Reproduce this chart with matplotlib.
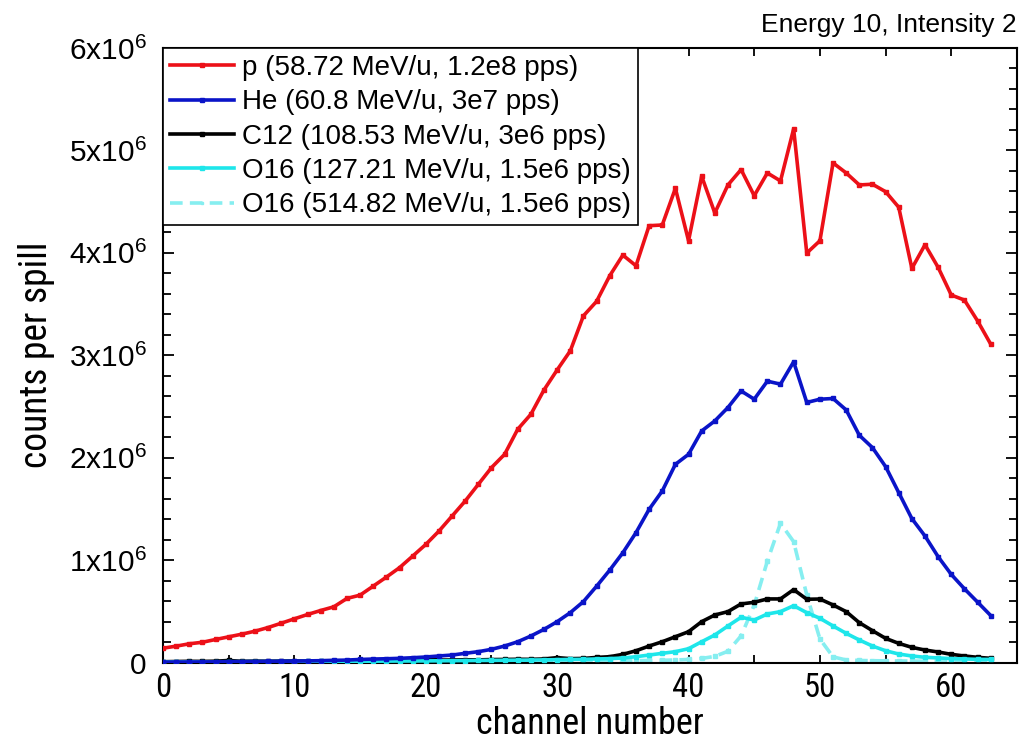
import matplotlib
matplotlib.use("Agg")
import matplotlib.pyplot as plt
from matplotlib import font_manager
from matplotlib.ticker import MultipleLocator, FixedLocator, FixedFormatter
import numpy as np

plt.rcParams['font.family'] = ['Liberation Sans', 'DejaVu Sans']
plt.rcParams['mathtext.fontset'] = 'custom'
plt.rcParams['mathtext.rm'] = 'Liberation Sans'
plt.rcParams['mathtext.it'] = 'Liberation Sans'

# pick a condensed face for the axis numbers and titles, if one is installed
installed = {f.name for f in font_manager.fontManager.ttflist}
narrow_pick = None
for cand in ['Liberation Sans Narrow', 'Arial Narrow', 'Roboto Condensed',
             'Open Sans Condensed', 'DejaVu Sans Condensed']:
    if cand in installed:
        narrow_pick = cand
        break
NARROW = ([narrow_pick] if narrow_pick else []) + ['Liberation Sans', 'DejaVu Sans']

channels = list(range(64))

# counts per spill, in units of 1e6
proton = [0.140, 0.160, 0.183, 0.198, 0.225, 0.251, 0.277, 0.306, 0.342, 0.384,
          0.427, 0.469, 0.508, 0.544, 0.626, 0.658, 0.746, 0.834, 0.926, 1.039,
          1.153, 1.283, 1.430, 1.577, 1.740, 1.903, 2.033, 2.278, 2.424, 2.662,
          2.857, 3.043, 3.385, 3.526, 3.776, 3.978, 3.874, 4.265, 4.272, 4.630,
          4.118, 4.748, 4.389, 4.663, 4.813, 4.558, 4.780, 4.702, 5.210, 3.998,
          4.118, 4.878, 4.780, 4.663, 4.670, 4.597, 4.445, 3.848, 4.079, 3.858,
          3.588, 3.539, 3.336, 3.109]

helium = [0.004, 0.005, 0.005, 0.006, 0.007, 0.008, 0.009, 0.010, 0.011, 0.012,
          0.014, 0.016, 0.018, 0.021, 0.024, 0.030, 0.034, 0.037, 0.041, 0.047,
          0.054, 0.064, 0.073, 0.090, 0.106, 0.129, 0.161, 0.203, 0.259, 0.324,
          0.399, 0.487, 0.595, 0.745, 0.902, 1.072, 1.268, 1.496, 1.675, 1.935,
          2.033, 2.261, 2.359, 2.490, 2.652, 2.571, 2.747, 2.718, 2.936, 2.539,
          2.571, 2.578, 2.466, 2.219, 2.098, 1.913, 1.659, 1.405, 1.235, 1.033,
          0.860, 0.720, 0.590, 0.459]

carbon = [0.008, 0.010, 0.012, 0.011, 0.013, 0.020, 0.012, 0.014, 0.013, 0.015,
          0.016, 0.014, 0.017, 0.018, 0.016, 0.019, 0.020, 0.018, 0.021, 0.022,
          0.040, 0.024, 0.025, 0.027, 0.026, 0.029, 0.030, 0.032, 0.031, 0.035,
          0.048, 0.038, 0.040, 0.050, 0.057, 0.080, 0.115, 0.161, 0.203, 0.252,
          0.301, 0.399, 0.464, 0.497, 0.572, 0.588, 0.621, 0.621, 0.712, 0.618,
          0.620, 0.562, 0.497, 0.389, 0.311, 0.236, 0.187, 0.148, 0.122, 0.103,
          0.080, 0.064, 0.051, 0.041]

oxygen_low = [0.005, 0.006, 0.006, 0.007, 0.007, 0.008, 0.008, 0.009, 0.009, 0.010,
              0.010, 0.011, 0.011, 0.012, 0.012, 0.013, 0.013, 0.014, 0.015, 0.015,
              0.016, 0.017, 0.018, 0.019, 0.020, 0.021, 0.022, 0.023, 0.024, 0.026,
              0.028, 0.030, 0.031, 0.035, 0.038, 0.044, 0.057, 0.073, 0.090, 0.106,
              0.135, 0.203, 0.269, 0.357, 0.442, 0.415, 0.474, 0.497, 0.555, 0.487,
              0.432, 0.357, 0.285, 0.220, 0.161, 0.115, 0.083, 0.064, 0.051, 0.045,
              0.038, 0.035, 0.031, 0.030]

oxygen_high = [0.005, 0.005, 0.005, 0.006, 0.006, 0.006, 0.006, 0.007, 0.007, 0.007,
               0.007, 0.008, 0.008, 0.008, 0.008, 0.009, 0.009, 0.009, 0.010, 0.010,
               0.010, 0.011, 0.011, 0.011, 0.012, 0.012, 0.013, 0.013, 0.014, 0.014,
               0.015, 0.015, 0.016, 0.017, 0.017, 0.018, 0.019, 0.020, 0.022, 0.025,
               0.030, 0.040, 0.060, 0.110, 0.260, 0.560, 0.990, 1.360, 1.180, 0.660,
               0.230, 0.055, 0.025, 0.020, 0.018, 0.016, 0.015, 0.014, 0.013, 0.012,
               0.012, 0.011, 0.010, 0.010]

labels = ["p (58.72 MeV/u, 1.2e8 pps)",
          "He (60.8 MeV/u, 3e7 pps)",
          "C12 (108.53 MeV/u, 3e6 pps)",
          "O16 (127.21 MeV/u, 1.5e6 pps)",
          "O16 (514.82 MeV/u, 1.5e6 pps)"]

ytick_values = [0, 1, 2, 3, 4, 5, 6]

fig = plt.figure(figsize=(10.26, 7.42), dpi=100)
ax = fig.add_axes([0.1589, 0.1071, 0.8323, 0.8282])

scale = 1e6
style = dict(lw=2.6, marker='s', ms=3.2)
ax.plot(channels, np.array(proton) * scale, color='#ec1018', label=labels[0], zorder=5, **style)
ax.plot(channels, np.array(helium) * scale, color='#0a14c8', label=labels[1], zorder=4, **style)
ax.plot(channels, np.array(carbon) * scale, color='#000000', label=labels[2], zorder=3, **style)
ax.plot(channels, np.array(oxygen_low) * scale, color='#1ee6ea', label=labels[3], zorder=3, **style)
ax.plot(channels, np.array(oxygen_high) * scale, color='#86eef0', label=labels[4], zorder=2,
        lw=2.6, ls=(0, (3.5, 2)), marker='s', ms=2.5)

ax.set_xlim(0, 65)
ax.set_ylim(0, 6e6)

ax.xaxis.set_major_locator(MultipleLocator(10))
ax.xaxis.set_minor_locator(MultipleLocator(5))
ax.yaxis.set_major_locator(FixedLocator([v * scale for v in ytick_values]))
ax.yaxis.set_major_formatter(FixedFormatter(
    ["0" if v == 0 else f"{v}x10$^{{6}}$" for v in ytick_values]))
ax.yaxis.set_minor_locator(MultipleLocator(0.2e6))

ax.tick_params(axis='both', which='both', direction='in', top=True, right=True,
               width=1.3, colors='black')
ax.tick_params(axis='x', which='both', length=6, pad=7)
ax.tick_params(axis='y', which='major', length=8, pad=12)
ax.tick_params(axis='y', which='minor', length=6)
for lab in ax.get_xticklabels():
    lab.set_fontfamily(NARROW)
    lab.set_fontsize(23.5 if narrow_pick else 21)
for lab in ax.get_yticklabels():
    lab.set_fontsize(21.5)

for sp in ax.spines.values():
    sp.set_linewidth(1.5)

ax.set_xlabel("channel number", fontsize=26 if narrow_pick else 23, family=NARROW, labelpad=1)
ax.set_ylabel("counts per spill", fontsize=27 if narrow_pick else 24, family=NARROW, labelpad=10)

leg = ax.legend(loc='upper left', bbox_to_anchor=(0, 1), borderaxespad=0,
                fontsize=20, frameon=True, fancybox=False, framealpha=1,
                edgecolor='black', handlelength=2.3, handletextpad=0.3,
                labelspacing=0.3, borderpad=0.25, markerscale=0.8)
leg.get_frame().set_linewidth(1.2)
leg.set_zorder(10)

fig.text(0.9912, 0.966, "Energy 10, Intensity 2", ha='right', va='center', fontsize=19)

fig.savefig("out.png", dpi=100)
